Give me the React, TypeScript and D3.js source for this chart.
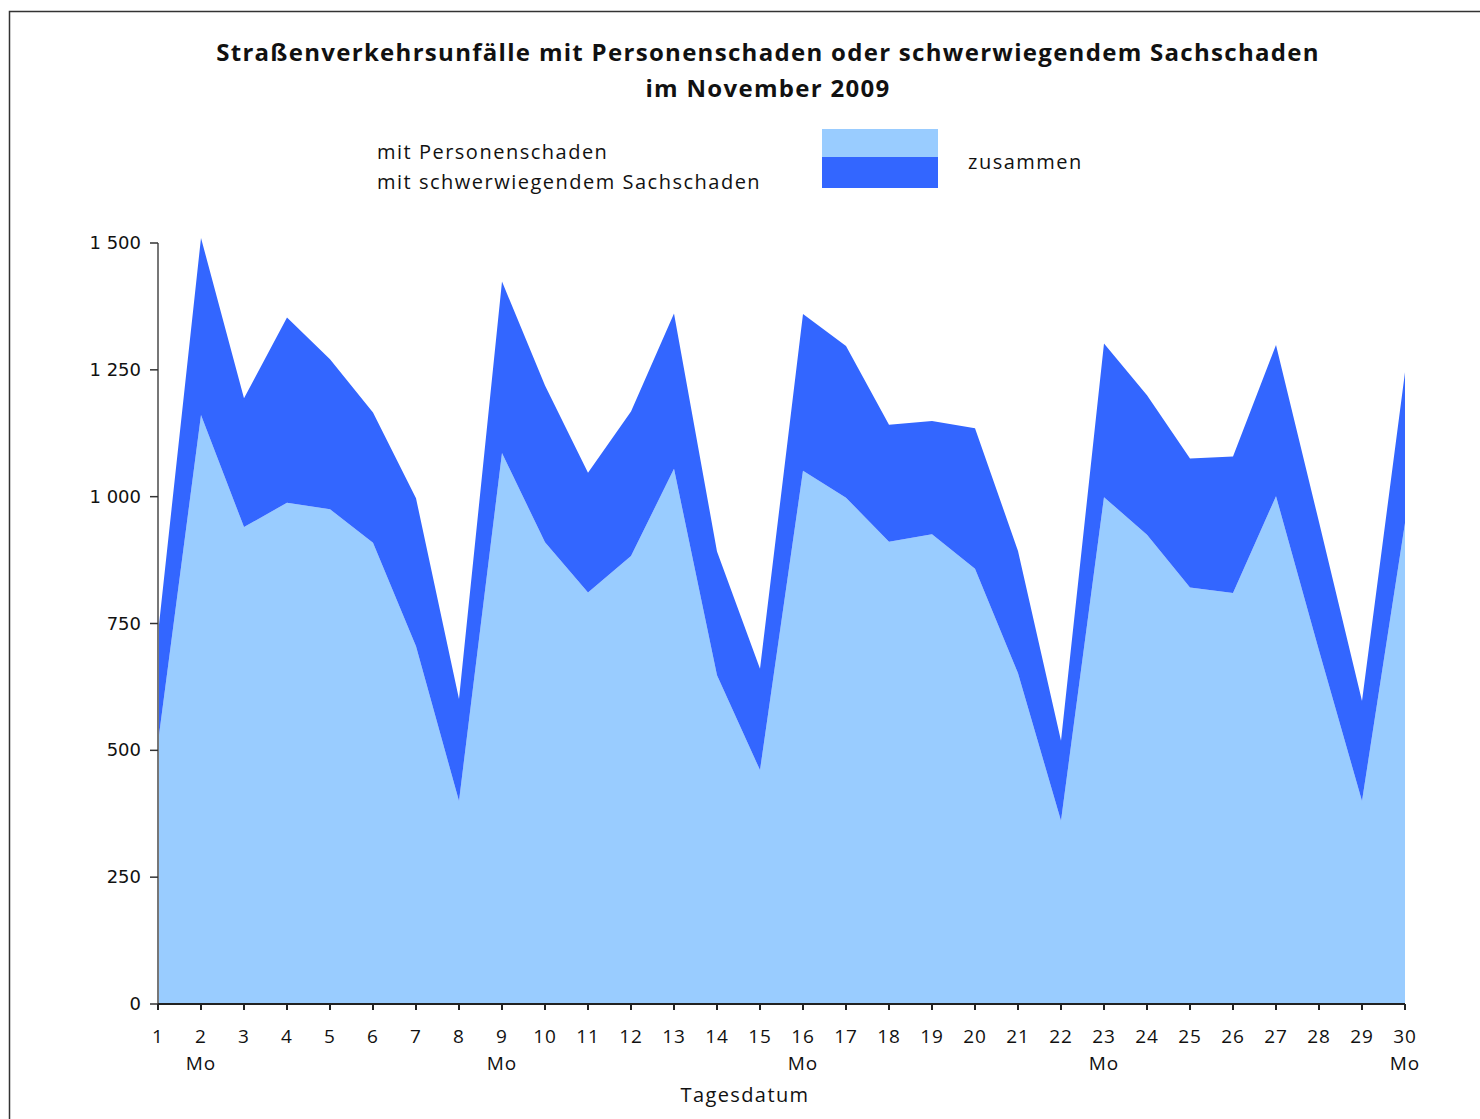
import React from 'react';
import * as d3 from 'd3';

// Tagesdatum November 2009
const days = d3.range(1, 31);
const personenschaden = [
  515, 1161, 940, 988, 975, 909, 705, 400, 1086, 910, 811, 883, 1055, 648, 461,
  1051, 998, 911, 926, 858, 652, 361, 999, 925, 821, 810, 1001, 697, 400, 948,
];
const sachschaden = [
  215, 349, 254, 365, 296, 257, 292, 201, 338, 309, 236, 285, 306, 244, 200,
  309, 299, 231, 223, 277, 241, 158, 303, 275, 254, 269, 298, 253, 197, 297,
];
const mondays = [2, 9, 16, 23, 30];
const yTicks = [0, 250, 500, 750, 1000, 1250, 1500];

const COLOR_P = '#99ccff';
const COLOR_S = '#3366ff';
const FONT = '"Open Sans", "Noto Sans", sans-serif';

const App = () => {
  const left = 158;
  const right = 1405;
  const top = 243;
  const bottom = 1004;

  const x = d3.scaleLinear().domain([1, 30]).range([left, right]);
  const y = d3.scaleLinear().domain([0, 1500]).range([bottom, top]);

  const rows = days.map((d, i) => ({ day: d, p: personenschaden[i], s: sachschaden[i] }));
  const series = d3.stack().keys(['p', 's'])(rows as any);

  const area = d3
    .area<any>()
    .x((d) => x(d.data.day))
    .y0((d) => y(d[0]))
    .y1((d) => y(d[1]));

  const fmt = (v: number) => d3.format(',')(v).replace(',', ' ');

  const txt = { fontFamily: FONT, fill: '#111' };

  return (
    <svg width={1480} height={1119} style={{ position: 'absolute', left: 0, top: 0 }}>
      <rect x={0} y={0} width={1480} height={1119} fill="white" />
      {/* frame */}
      <path d="M9.5,1119 V11.5 H1480" fill="none" stroke="#333" strokeWidth={1.5} />

      <text x={768} y={61} textAnchor="middle" {...txt} fontWeight="bold" fontSize={24} letterSpacing={1.3}>
        Straßenverkehrsunfälle mit Personenschaden oder schwerwiegendem Sachschaden
      </text>
      <text x={768} y={97} textAnchor="middle" {...txt} fontWeight="bold" fontSize={24} letterSpacing={1.3}>
        im November 2009
      </text>

      {/* legend */}
      <text x={377} y={159} {...txt} fontSize={20} letterSpacing={1.5}>mit Personenschaden</text>
      <text x={377} y={189} {...txt} fontSize={20} letterSpacing={1.5}>mit schwerwiegendem Sachschaden</text>
      <rect x={822} y={129} width={116} height={28} fill={COLOR_P} />
      <rect x={822} y={157} width={116} height={31} fill={COLOR_S} />
      <text x={968} y={169} {...txt} fontSize={20} letterSpacing={1.5}>zusammen</text>

      {/* areas */}
      {series.map((s, i) => (
        <path key={i} d={area(s as any) || ''} fill={i === 0 ? COLOR_P : COLOR_S} />
      ))}

      {/* y axis */}
      <line x1={left} x2={left} y1={top} y2={bottom} stroke="#777" strokeWidth={2} />
      {yTicks.map((t) => (
        <g key={t}>
          <line x1={left - 8} x2={left} y1={y(t)} y2={y(t)} stroke="#333" strokeWidth={1.5} />
          <text x={141} y={y(t) + 6} textAnchor="end" fontFamily='"DejaVu Sans", sans-serif' fontSize={18} fill="#111">
            {fmt(t)}
          </text>
        </g>
      ))}

      {/* x axis */}
      <line x1={left} x2={right} y1={bottom} y2={bottom} stroke="#222" strokeWidth={2} />
      {days.map((d) => (
        <g key={d}>
          <line x1={x(d)} x2={x(d)} y1={bottom} y2={bottom + 6} stroke="#222" strokeWidth={2} />
          <text x={x(d)} y={1043} textAnchor="middle" {...txt} fontSize={19} letterSpacing={1}>
            {d}
          </text>
        </g>
      ))}
      {mondays.map((d) => (
        <text key={d} x={x(d)} y={1070} textAnchor="middle" {...txt} fontSize={19} letterSpacing={1}>
          Mo
        </text>
      ))}
      <text x={745} y={1102} textAnchor="middle" {...txt} fontSize={20} letterSpacing={1.4}>
        Tagesdatum
      </text>
    </svg>
  );
};

export default App;
